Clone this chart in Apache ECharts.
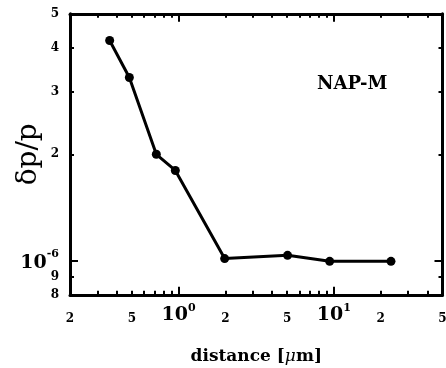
<!DOCTYPE html>
<html>
<head>
<meta charset="utf-8">
<script src="https://cdn.jsdelivr.net/npm/echarts@6/dist/echarts.min.js"></script>
<style>
  html, body { margin: 0; padding: 0; background: #fff; }
  #chart { width: 446px; height: 368px; }
</style>
</head>
<body>
<div id="chart"></div>
<script>
// measured points (distance in um, relative pressure uncertainty)
const distance = [0.36, 0.482, 0.719, 0.953, 1.98, 5.03, 9.39, 23.3];
const dpOverP = [4.2e-6, 3.3e-6, 2.0e-6, 1.8e-6, 1.013e-6, 1.035e-6, 0.995e-6, 0.995e-6];

// tick labels
const xLabelValues = [0.2, 0.5, 1, 2, 5, 10, 20, 50];
const xLabels = ['2', '5', '10^0', '2', '5', '10^1', '2', '5'];
const xMinorTicks = [0.3, 0.4, 0.5, 0.6, 0.7, 0.8, 0.9, 2, 3, 4, 5, 6, 7, 8, 9, 20, 30, 40];
const xMajorTicks = [1, 10];

const yLabelValues = [8e-7, 9e-7, 1e-6, 2e-6, 3e-6, 4e-6, 5e-6];
const yLabels = ['8', '9', '10^-6', '2', '3', '4', '5'];
const yMinorTicks = [9e-7, 2e-6, 3e-6, 4e-6];
const yMajorTicks = [1e-6];

const FONT = 'DejaVu Serif';

const findLabel = (values, labels, v) => {
  for (let i = 0; i < values.length; i++) {
    if (Math.abs(Math.log10(v) - Math.log10(values[i])) < 1e-6) return labels[i];
  }
  return '';
};
const toRich = (s) => {
  if (s.indexOf('^') < 0) return '{n|' + s + '}';
  const parts = s.split('^');
  return '{b|' + parts[0] + '}{s|' + parts[1] + '}';
};

const labelRich = {
  n: { fontFamily: FONT, fontWeight: 'bold', fontSize: 12, color: '#000', lineHeight: 22, verticalAlign: 'bottom' },
  b: { fontFamily: FONT, fontWeight: 'bold', fontSize: 19, color: '#000', lineHeight: 22, verticalAlign: 'bottom' },
  s: { fontFamily: FONT, fontWeight: 'bold', fontSize: 11, color: '#000', lineHeight: 22, verticalAlign: 'top' }
};

const frameLine = { show: true, onZero: false, lineStyle: { color: '#000', width: 3 } };
const noLine = { show: false };

const xBase = { type: 'log', logBase: 10, min: 0.2, max: 50, splitLine: { show: false } };
const yBase = { type: 'log', logBase: 10, min: 8e-7, max: 5e-6, splitLine: { show: false } };

const ticks = (vals, len) => ({
  show: true, inside: true, length: len, customValues: vals,
  lineStyle: { color: '#000', width: 2 }
});

const option = {
  animation: false,
  backgroundColor: '#fff',
  grid: { left: 70, right: 3.5, top: 13.8, bottom: 73.2, containLabel: false, outerBoundsMode: 'none' },
  xAxis: [
    {
      ...xBase, position: 'bottom', axisLine: frameLine, axisTick: ticks(xMinorTicks, 4),
      axisLabel: {
        show: true, customValues: xLabelValues, margin: 30, verticalAlign: 'bottom',
        formatter: (v) => toRich(findLabel(xLabelValues, xLabels, v)), rich: labelRich
      },
      name: '{t|distance [}{i|μ}{t|m]}', nameLocation: 'middle', nameGap: 53, nameMoveOverlap: false,
      nameTextStyle: {
        rich: {
          t: { fontFamily: FONT, fontWeight: 'bold', fontSize: 17, color: '#000' },
          i: { fontFamily: FONT, fontStyle: 'italic', fontSize: 17, color: '#000' }
        }
      }
    },
    { ...xBase, position: 'bottom', axisLine: noLine, axisTick: ticks(xMajorTicks, 8), axisLabel: { show: false } },
    { ...xBase, position: 'top', axisLine: frameLine, axisTick: ticks(xMinorTicks, 4), axisLabel: { show: false } },
    { ...xBase, position: 'top', axisLine: noLine, axisTick: ticks(xMajorTicks, 8), axisLabel: { show: false } }
  ],
  yAxis: [
    {
      ...yBase, position: 'left', axisLine: frameLine, axisTick: ticks(yMinorTicks, 4),
      axisLabel: {
        show: true, customValues: yLabelValues, margin: 11,
        formatter: (v) => toRich(findLabel(yLabelValues, yLabels, v)), rich: {
          n: { fontFamily: FONT, fontWeight: 'bold', fontSize: 12, color: '#000' },
          b: { fontFamily: FONT, fontWeight: 'bold', fontSize: 19, color: '#000', lineHeight: 24, verticalAlign: 'bottom' },
          s: { fontFamily: FONT, fontWeight: 'bold', fontSize: 11, color: '#000', lineHeight: 24, verticalAlign: 'top' }
        }
      },
      name: 'δp/p', nameLocation: 'middle', nameGap: 27, nameRotate: 90, nameMoveOverlap: false,
      nameTextStyle: { fontFamily: FONT, fontWeight: 'normal', fontSize: 28, color: '#000' }
    },
    { ...yBase, position: 'left', axisLine: noLine, axisTick: ticks(yMajorTicks, 8), axisLabel: { show: false } },
    { ...yBase, position: 'right', axisLine: frameLine, axisTick: ticks(yMinorTicks, 4), axisLabel: { show: false } },
    { ...yBase, position: 'right', axisLine: noLine, axisTick: ticks(yMajorTicks, 8), axisLabel: { show: false } }
  ],
  graphic: [
    {
      type: 'text', left: 317, top: 75,
      style: { text: 'NAP-M', fontFamily: FONT, fontWeight: 'bold', fontSize: 18, fill: '#000' }
    }
  ],
  series: [
    {
      type: 'line',
      xAxisIndex: 0,
      yAxisIndex: 0,
      data: distance.map((d, i) => [d, dpOverP[i]]),
      symbol: 'circle',
      symbolSize: 9,
      lineStyle: { color: '#000', width: 3 },
      itemStyle: { color: '#000' },
      emphasis: { disabled: true }
    }
  ]
};

const chart = echarts.init(document.getElementById('chart'));
chart.setOption(option);
</script>
</body>
</html>
